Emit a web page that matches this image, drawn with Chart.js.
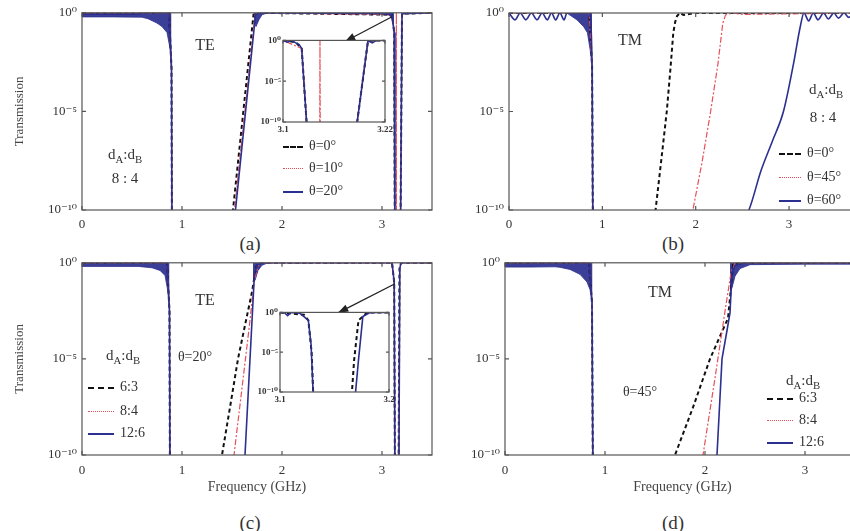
<!DOCTYPE html>
<html>
<head>
<meta charset="utf-8">
<script src="https://cdn.jsdelivr.net/npm/chart.js@4.4.1/dist/chart.umd.min.js"></script>
<style>
body { margin: 0; background: #fff; }
#fig { position: relative; width: 850px; height: 531px; overflow: hidden; background: #fff;
  font-family: "Liberation Serif", "DejaVu Serif", serif; color: #333; }
#fig canvas { position: absolute; }
.t { position: absolute; white-space: nowrap; transform: translate(-50%, -50%); line-height: 1; }
.t sub { font-size: 0.72em; }
.leg { position: absolute; white-space: nowrap; font-size: 14px; line-height: 14px; }
.leg i { display: inline-block; vertical-align: middle; margin-right: 6px; }
.k { border-top: 2.5px dashed #111; }
.r { border-top: 1.5px dotted #e6505a; }
.b { border-top: 2px solid #2b2f8f; }
</style>
</head>
<body>
<div id="fig">
  <div class="t" style="left:250px;top:243px;font-size:19px">(a)</div>
  <div class="t" style="left:673px;top:243px;font-size:19px">(b)</div>
  <div class="t" style="left:250px;top:522px;font-size:19px">(c)</div>
  <div class="t" style="left:673px;top:522px;font-size:19px">(d)</div>
</div>
<div id="overlay" style="display:none">
  <div class="t" style="left:205px;top:45px;font-size:16px">TE</div>
  <div class="t" style="left:125px;top:156px;font-size:15px">d<sub>A</sub>:d<sub>B</sub></div>
  <div class="t" style="left:125px;top:178px;font-size:15px">8 : 4</div>
  <div class="leg" style="left:283px;top:139px"><i class="k" style="width:20px"></i>θ=0°</div>
  <div class="leg" style="left:283px;top:161px"><i class="r" style="width:20px"></i>θ=10°</div>
  <div class="leg" style="left:283px;top:184px"><i class="b" style="width:20px"></i>θ=20°</div>

  <div class="t" style="left:630px;top:40px;font-size:16px">TM</div>
  <div class="t" style="left:826px;top:91px;font-size:15px">d<sub>A</sub>:d<sub>B</sub></div>
  <div class="t" style="left:823px;top:117px;font-size:15px">8 : 4</div>
  <div class="leg" style="left:779px;top:146px"><i class="k" style="width:22px"></i>θ=0°</div>
  <div class="leg" style="left:779px;top:170px"><i class="r" style="width:22px"></i>θ=45°</div>
  <div class="leg" style="left:779px;top:193px"><i class="b" style="width:22px"></i>θ=60°</div>

  <div class="t" style="left:205px;top:300px;font-size:16px">TE</div>
  <div class="t" style="left:195px;top:357px;font-size:14px">θ=20°</div>
  <div class="t" style="left:123px;top:357px;font-size:15px">d<sub>A</sub>:d<sub>B</sub></div>
  <div class="leg" style="left:88px;top:380px"><i class="k" style="width:26px"></i>6:3</div>
  <div class="leg" style="left:88px;top:404px"><i class="r" style="width:26px"></i>8:4</div>
  <div class="leg" style="left:88px;top:426px"><i class="b" style="width:26px"></i>12:6</div>

  <div class="t" style="left:660px;top:292px;font-size:16px">TM</div>
  <div class="t" style="left:640px;top:392px;font-size:14px">θ=45°</div>
  <div class="t" style="left:803px;top:382px;font-size:15px">d<sub>A</sub>:d<sub>B</sub></div>
  <div class="leg" style="left:767px;top:391px"><i class="k" style="width:26px"></i>6:3</div>
  <div class="leg" style="left:767px;top:413px"><i class="r" style="width:26px"></i>8:4</div>
  <div class="leg" style="left:767px;top:435px"><i class="b" style="width:26px"></i>12:6</div>
</div>
<script>
// Axis ticks
const yTickVals = [1e-10, 1e-5, 1];
const yTickText = ['10⁻¹⁰', '10⁻⁵', '10⁰'];
const xTickVals = [0, 1, 2, 3];

// (a) TE, dA:dB = 8:4
const aX0 = [0, 0.62, 0.87, 0.895, 0.9, 1.3, 1.51, 1.715, 1.75, 3.1, 3.122, 3.129, 3.185, 3.2, 3.5];
const aT0 = [1, 1, 1, 0.0016, 1e-12, 1e-12, 1e-10, 0.8, 1, 0.8, 0.1, 1e-12, 1e-11, 0.9, 1];
const aX10 = [0, 0.62, 0.87, 0.895, 0.9, 1.3, 1.525, 1.73, 1.8, 3.1, 3.122, 3.129, 3.1432, 3.1435, 3.1438, 3.186, 3.2, 3.5];
const aT10 = [1, 1, 1, 0.0016, 1e-12, 1e-12, 1e-10, 0.8, 1, 0.8, 0.1, 1e-12, 1e-12, 1, 1e-12, 1e-11, 0.9, 1];
const aX20 = [0, 0.55, 0.62, 0.87, 0.895, 0.9, 1.3, 1.535, 1.735, 1.76, 1.8, 3.0, 3.1, 3.122, 3.129, 3.185, 3.2, 3.21, 3.5];
const aT20 = [0.85, 0.85, 1, 1, 0.0016, 1e-12, 1e-12, 1e-10, 0.8, 0.9, 1, 0.9, 0.8, 0.1, 1e-12, 1e-11, 0.9, 0.9, 1];
// lower edge of the dense oscillation bands
const aBandX = [[0, 0.3, 0.6, 0.66, 0.75, 0.8, 0.85, 0.88, 0.895], [1.72, 1.74, 1.77, 1.8, 1.86], [3.03, 3.08, 3.11, 3.12]];
const aBandT = [[0.62, 0.62, 0.6, 0.5, 0.3, 0.2, 0.1, 0.016, 0.0016], [0.4, 0.2, 0.45, 0.8, 1], [1, 0.7, 0.35, 0.1]];
const aArrow = [[3.10, 0.63], [2.63, 0.035]];

// (a) inset, 3.1 - 3.22 GHz
const iaXTicks = [3.1, 3.22];
const iaX0 = [3.1, 3.115, 3.122, 3.129, 3.186, 3.2, 3.22];
const iaT0 = [1, 0.6, 0.1, 1e-12, 1e-11, 0.9, 1];
const iaX10 = [3.1, 3.122, 3.129, 3.1432, 3.1435, 3.1438, 3.186, 3.2, 3.22];
const iaT10 = [1, 0.1, 1e-12, 1e-12, 1, 1e-12, 1e-11, 0.9, 1];
const iaX20 = [3.1, 3.105, 3.11, 3.115, 3.119, 3.122, 3.129, 3.186, 3.2, 3.205, 3.21, 3.22];
const iaT20 = [1, 0.6, 1, 0.5, 0.3, 0.1, 1e-12, 1e-11, 0.9, 0.5, 1, 1];

// (b) TM, dA:dB = 8:4
const bX0 = [0, 0.62, 0.86, 0.89, 0.9, 1.3, 1.57, 1.63, 1.69, 1.73, 1.76, 1.78, 1.8, 1.83, 1.87, 2.0, 3.76];
const bT0 = [1, 1, 1, 0.002, 1e-12, 1e-12, 1e-10, 3e-8, 1e-5, 1.6e-3, 0.1, 0.35, 0.7, 1, 0.8, 1, 1];
const bX45 = [0, 0.62, 0.86, 0.89, 0.9, 1.6, 1.97, 2.07, 2.16, 2.24, 2.29, 2.32, 2.4, 2.5, 3.76];
const bT45 = [1, 1, 1, 0.002, 1e-12, 1e-12, 1e-10, 3e-8, 1e-5, 3e-3, 0.3, 0.8, 1, 0.85, 1];
const bX60 = [0, 0.065, 0.12, 0.18, 0.24, 0.30, 0.355, 0.41, 0.455, 0.50, 0.545, 0.59, 0.62, 0.86, 0.89, 0.9, 2.3,
  2.57, 2.70, 2.82, 2.94, 3.05, 3.12, 3.16, 3.21, 3.26, 3.31, 3.37, 3.42, 3.48, 3.53, 3.59, 3.64, 3.7, 3.76];
const bT60 = [1, 0.45, 1, 0.45, 1, 0.45, 1, 0.45, 1, 0.45, 1, 0.45, 1, 1, 0.002, 1e-12, 1e-12,
  1e-10, 1e-8, 3e-7, 1e-5, 3e-3, 0.2, 1, 0.4, 1, 0.45, 1, 0.5, 1, 0.55, 1, 0.6, 1, 0.6];
const bBandX = [[0.62, 0.73, 0.8, 0.84, 0.87, 0.89]];
const bBandT = [[1, 0.44, 0.2, 0.1, 0.013, 0.002]];

// (c) TE, theta = 20 deg
const cX6 = [0, 0.56, 0.85, 0.875, 0.88, 1.2, 1.40, 1.48, 1.56, 1.64, 1.70, 1.74, 1.78, 3.1, 3.122, 3.13, 3.165, 3.175, 3.19, 3.5];
const cT6 = [1, 1, 1, 0.003, 1e-12, 1e-12, 1e-10, 3e-8, 1e-5, 1e-3, 0.03, 0.6, 1, 1, 0.1, 1e-12, 1e-12, 0.5, 1, 1];
const cX8 = [0, 0.56, 0.85, 0.875, 0.88, 1.3, 1.52, 1.6, 1.68, 1.72, 1.77, 3.1, 3.122, 3.13, 3.167, 3.177, 3.19, 3.5];
const cT8 = [1, 1, 1, 0.003, 1e-12, 1e-12, 1e-10, 3e-7, 1e-3, 0.1, 1, 1, 0.1, 1e-12, 1e-12, 0.5, 1, 1];
const cX12 = [0, 0.56, 0.85, 0.875, 0.88, 1.3, 1.63, 1.67, 1.705, 1.725, 1.75, 1.8, 3.1, 3.122, 3.13, 3.168, 3.178, 3.19, 3.5];
const cT12 = [1, 1, 1, 0.003, 1e-12, 1e-12, 1e-10, 1e-6, 3e-3, 0.3, 0.8, 1, 1, 0.1, 1e-12, 1e-12, 0.5, 1, 1];
const cBandX = [[0, 0.3, 0.56, 0.7, 0.78, 0.83, 0.86, 0.875], [1.71, 1.73, 1.76, 1.8, 1.86]];
const cBandT = [[0.65, 0.65, 0.65, 0.55, 0.4, 0.22, 0.03, 0.003], [0.15, 0.12, 0.4, 0.75, 1]];
const cArrow = [[3.13, 0.081], [2.56, 2.5e-3]];

// (c) inset, 3.1 - 3.2 GHz
const icXTicks = [3.1, 3.2];
const icX6 = [3.1, 3.122, 3.126, 3.129, 3.131, 3.165, 3.168, 3.172, 3.18, 3.2];
const icT6 = [1, 0.5, 0.1, 1e-5, 1e-12, 1e-12, 1e-6, 0.1, 1, 1];
const icX12 = [3.1, 3.104, 3.107, 3.11, 3.118, 3.122, 3.126, 3.1285, 3.131, 3.168, 3.172, 3.176, 3.182, 3.19, 3.2];
const icT12 = [1, 0.9, 0.4, 1, 0.8, 0.3, 0.1, 1e-4, 1e-12, 1e-12, 1e-6, 0.3, 0.9, 1, 1];

// (d) TM, theta = 45 deg
const dX6 = [0, 0.55, 0.84, 0.87, 0.88, 1.3, 1.70, 1.88, 2.05, 2.23, 2.26, 2.28, 2.35, 3.55];
const dT6 = [1, 1, 1, 0.008, 1e-12, 1e-12, 1e-10, 3e-8, 1e-5, 1.3e-3, 0.05, 0.8, 1, 1];
const dX8 = [0, 0.55, 0.84, 0.87, 0.88, 1.5, 1.98, 2.1, 2.2, 2.26, 2.3, 3.55];
const dT8 = [1, 1, 1, 0.008, 1e-12, 1e-12, 1e-10, 1e-6, 3e-3, 0.3, 1, 1];
const dX12 = [0, 0.55, 0.84, 0.87, 0.88, 1.5, 2.12, 2.17, 2.22, 2.25, 2.27, 2.3, 2.4, 3.55];
const dT12 = [1, 1, 1, 0.008, 1e-12, 1e-12, 1e-10, 1e-5, 3e-4, 2.5e-3, 0.3, 0.7, 1, 1];
const dBandX = [[0, 0.25, 0.5, 0.55, 0.65, 0.75, 0.82, 0.85, 0.875], [2.25, 2.27, 2.3, 2.35, 2.45, 3.0, 3.55]];
const dBandT = [[0.6, 0.6, 0.62, 0.58, 0.45, 0.25, 0.1, 0.04, 0.008], [0.03, 0.05, 0.2, 0.5, 0.8, 0.85, 0.85]];

// Styles
const NAVY = '#2b2f8f';
const FONT = '"Liberation Serif", "DejaVu Serif", serif';
const STYLE = {
  k: { borderColor: '#111', borderWidth: 2, borderDash: [4, 3], order: 3 },
  r: { borderColor: '#e6505a', borderWidth: 1.2, borderDash: [2, 2, 6, 2], order: 2 },
  b: { borderColor: NAVY, borderWidth: 1.6, order: 1 },
};

function series(xs, ts, kind, smooth) {
  return Object.assign({
    data: xs.map((x, i) => ({ x: x, y: ts[i] })),
    pointRadius: 0, fill: false, tension: 0,
    cubicInterpolationMode: smooth ? 'monotone' : 'default',
  }, STYLE[kind]);
}

function bands(xsList, tsList) {
  return xsList.map((xs, j) => ({
    data: xs.map((x, i) => ({ x: x, y: tsList[j][i] })),
    pointRadius: 0, borderWidth: 0.8, borderColor: NAVY,
    backgroundColor: 'rgba(43,47,143,0.92)', fill: 'end', order: 4,
  }));
}

// box frame with inward ticks, white background for insets
const framePlugin = {
  id: 'frame',
  beforeDatasetsDraw(chart, args, opts) {
    if (!opts.white) return;
    const a = chart.chartArea;
    chart.ctx.save();
    chart.ctx.fillStyle = '#fff';
    chart.ctx.fillRect(a.left, a.top, a.right - a.left, a.bottom - a.top);
    chart.ctx.restore();
  },
  afterDatasetsDraw(chart, args, opts) {
    const { ctx, chartArea: a, scales } = chart;
    const L = opts.tick || 4;
    ctx.save();
    ctx.strokeStyle = '#555';
    ctx.lineWidth = 1.2;
    ctx.strokeRect(a.left, a.top, a.right - a.left, a.bottom - a.top);
    ctx.beginPath();
    scales.x.ticks.forEach(t => {
      const px = scales.x.getPixelForValue(t.value);
      ctx.moveTo(px, a.bottom); ctx.lineTo(px, a.bottom - L);
      ctx.moveTo(px, a.top); ctx.lineTo(px, a.top + L);
    });
    scales.y.ticks.forEach(t => {
      const py = scales.y.getPixelForValue(t.value);
      ctx.moveTo(a.left, py); ctx.lineTo(a.left + L, py);
      ctx.moveTo(a.right, py); ctx.lineTo(a.right - L, py);
    });
    ctx.stroke();
    ctx.restore();
  }
};

// arrow pointing at the inset, given in data coordinates
const arrowPlugin = {
  id: 'arrow',
  afterDatasetsDraw(chart, args, opts) {
    if (!opts.points) return;
    const { ctx, scales } = chart;
    const [p0, p1] = opts.points;
    const x0 = scales.x.getPixelForValue(p0[0]), y0 = scales.y.getPixelForValue(p0[1]);
    const x1 = scales.x.getPixelForValue(p1[0]), y1 = scales.y.getPixelForValue(p1[1]);
    const ang = Math.atan2(y1 - y0, x1 - x0);
    ctx.save();
    ctx.strokeStyle = '#222'; ctx.fillStyle = '#222'; ctx.lineWidth = 1.3;
    ctx.beginPath(); ctx.moveTo(x0, y0); ctx.lineTo(x1, y1); ctx.stroke();
    ctx.beginPath();
    ctx.moveTo(x1, y1);
    ctx.lineTo(x1 - 11 * Math.cos(ang - 0.35), y1 - 11 * Math.sin(ang - 0.35));
    ctx.lineTo(x1 - 11 * Math.cos(ang + 0.35), y1 - 11 * Math.sin(ang + 0.35));
    ctx.closePath(); ctx.fill();
    ctx.restore();
  }
};

function makePanel(box, c) {
  const canvas = document.createElement('canvas');
  canvas.width = box.width; canvas.height = box.height;
  canvas.style.left = box.left + 'px'; canvas.style.top = box.top + 'px';
  document.getElementById('fig').appendChild(canvas);
  const fs = c.fontSize || 13;
  const tickFont = { family: FONT, size: fs, weight: c.bold ? 'bold' : 'normal' };
  const noGrid = { display: false, drawTicks: false, tickLength: 0 };
  return new Chart(canvas, {
    type: 'line',
    data: { datasets: c.datasets },
    options: {
      responsive: false, animation: false, events: [],
      layout: { padding: c.pad },
      plugins: {
        legend: { display: false }, tooltip: { enabled: false },
        frame: { white: c.white, tick: c.tick }, arrow: { points: c.arrow },
      },
      scales: {
        x: {
          type: 'linear', min: c.xMin || 0, max: c.xMax,
          grid: noGrid, border: { display: false },
          afterBuildTicks: s => { s.ticks = c.xTicks.map(v => ({ value: v })); },
          afterFit: s => { s.height = c.xH; },
          ticks: { font: tickFont, color: '#333', padding: c.xPad || 7, maxRotation: 0, autoSkip: false,
                   callback: v => String(v) },
          title: { display: !!c.xTitle, text: c.xTitle, font: { family: FONT, size: 14 }, color: '#444',
                   padding: { top: 2, bottom: 4 } },
        },
        y: {
          type: 'logarithmic', min: 1e-10, max: 1,
          grid: noGrid, border: { display: false },
          afterBuildTicks: s => { s.ticks = yTickVals.map(v => ({ value: v })); },
          afterFit: s => { s.width = c.yW; },
          ticks: { font: tickFont, color: '#333', padding: c.yPad || 5, callback: (v, i) => yTickText[i] },
          title: { display: !!c.yTitle, text: c.yTitle, font: { family: FONT, size: 13 }, color: '#444',
                   padding: { top: 12, bottom: 0 } },
        },
      },
    },
    plugins: [framePlugin, arrowPlugin],
  });
}

// (a)
makePanel({ left: 0, top: 0, width: 435, height: 240 }, {
  datasets: [series(aX20, aT20, 'b'), series(aX10, aT10, 'r'), series(aX0, aT0, 'k')].concat(bands(aBandX, aBandT)),
  xMax: 3.5, xTicks: xTickVals, yW: 82, xH: 30, pad: { top: 11, right: 3 },
  yTitle: 'Transmission', arrow: aArrow,
});
// (a) inset
makePanel({ left: 248, top: 33, width: 149, height: 109 }, {
  datasets: [series(iaX20, iaT20, 'b'), series(iaX10, iaT10, 'r'), series(iaX0, iaT0, 'k')],
  xMin: 3.1, xMax: 3.22, xTicks: iaXTicks, yW: 35, xH: 20, pad: { top: 7, right: 12 },
  fontSize: 9, bold: true, white: true, tick: 3, xPad: 2, yPad: 2,
});
// (b)
makePanel({ left: 463, top: 0, width: 400, height: 240 }, {
  datasets: [series(bX60, bT60, 'b', true), series(bX45, bT45, 'r'), series(bX0, bT0, 'k')].concat(bands(bBandX, bBandT)),
  xMax: 3.76, xTicks: xTickVals, yW: 46, xH: 30, pad: { top: 13, right: 3 },
});
// (c)
makePanel({ left: 0, top: 250, width: 435, height: 250 }, {
  datasets: [series(cX12, cT12, 'b'), series(cX8, cT8, 'r'), series(cX6, cT6, 'k')].concat(bands(cBandX, cBandT)),
  xMax: 3.5, xTicks: xTickVals, yW: 82, xH: 45, pad: { top: 12, right: 3 }, xPad: 8,
  yTitle: 'Transmission', xTitle: 'Frequency (GHz)', arrow: cArrow,
});
// (c) inset
makePanel({ left: 245, top: 305, width: 156, height: 108 }, {
  datasets: [series(icX12, icT12, 'b'), series(icX6, icT6, 'k')],
  xMin: 3.1, xMax: 3.2, xTicks: icXTicks, yW: 35, xH: 21, pad: { top: 7, right: 12 },
  fontSize: 9, bold: true, white: true, tick: 3, xPad: 2, yPad: 2,
});
// (d)
makePanel({ left: 459, top: 250, width: 404, height: 250 }, {
  datasets: [series(dX12, dT12, 'b'), series(dX8, dT8, 'r'), series(dX6, dT6, 'k')].concat(bands(dBandX, dBandT)),
  xMax: 3.55, xTicks: xTickVals, yW: 46, xH: 45, pad: { top: 12, right: 3 }, xPad: 8,
  xTitle: 'Frequency (GHz)',
});

// annotations and legends go on top of the canvases
const overlay = document.getElementById('overlay');
while (overlay.firstElementChild) document.getElementById('fig').appendChild(overlay.firstElementChild);
</script>
</body>
</html>
